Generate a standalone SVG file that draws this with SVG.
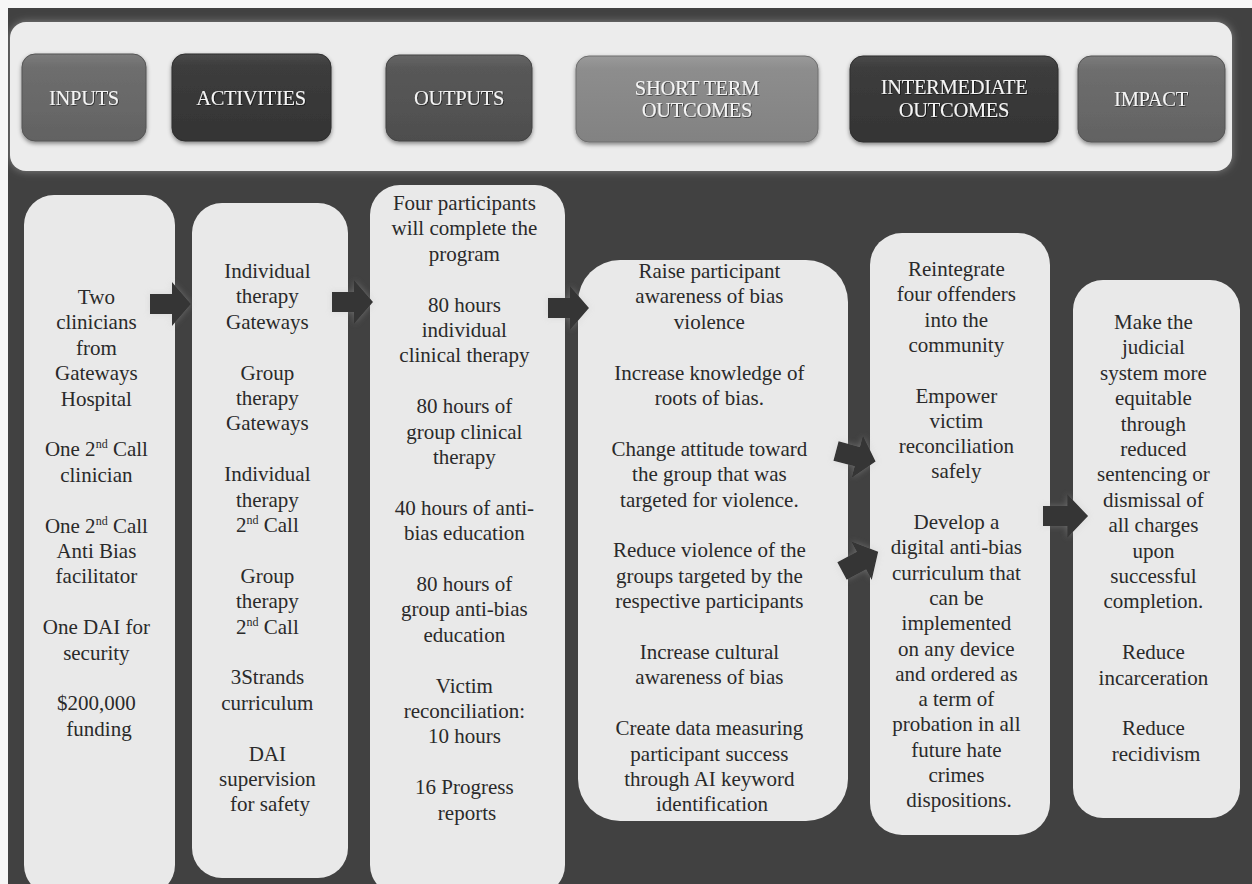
<svg xmlns="http://www.w3.org/2000/svg" xmlns:xlink="http://www.w3.org/1999/xlink" width="1252" height="884" viewBox="0 0 1252 884">
<style>
.bg{fill:#414141}
.panel{fill:#ececec}
.box{fill:#e9e9e9}
.btn-t{font-family:'Liberation Serif','DejaVu Serif','Times New Roman',serif;font-size:20.5px;letter-spacing:-0.3px;fill:#f4f4f4;text-anchor:middle}
.t{font-family:'Liberation Serif','DejaVu Serif','Times New Roman',serif;font-size:21px;fill:#2a2a2a;text-anchor:middle}
.arrow{fill:#363636}
</style>
<defs>
<linearGradient id="gMid" x1="0" y1="0" x2="0" y2="1"><stop offset="0" stop-color="#7c7c7c"/><stop offset="0.15" stop-color="#6e6e6e"/><stop offset="1" stop-color="#626262"/></linearGradient>
<linearGradient id="gDark" x1="0" y1="0" x2="0" y2="1"><stop offset="0" stop-color="#4a4a4a"/><stop offset="0.15" stop-color="#3c3c3c"/><stop offset="1" stop-color="#343434"/></linearGradient>
<linearGradient id="gMid2" x1="0" y1="0" x2="0" y2="1"><stop offset="0" stop-color="#666"/><stop offset="0.15" stop-color="#585858"/><stop offset="1" stop-color="#4e4e4e"/></linearGradient>
<linearGradient id="gLight" x1="0" y1="0" x2="0" y2="1"><stop offset="0" stop-color="#9a9a9a"/><stop offset="0.15" stop-color="#8d8d8d"/><stop offset="1" stop-color="#828282"/></linearGradient>
<filter id="sh" x="-10%" y="-10%" width="120%" height="130%"><feDropShadow dx="0" dy="2" stdDeviation="2" flood-color="#000" flood-opacity="0.45"/></filter>
<filter id="tsh"><feDropShadow dx="0.8" dy="0.8" stdDeviation="0.6" flood-color="#000" flood-opacity="0.6"/></filter>
<filter id="glow" x="-10%" y="-20%" width="120%" height="140%"><feDropShadow dx="0" dy="0" stdDeviation="4" flood-color="#fff" flood-opacity="0.35"/></filter>
<filter id="aglow" x="-30%" y="-30%" width="160%" height="160%"><feDropShadow dx="0" dy="0" stdDeviation="3" flood-color="#bbb" flood-opacity="0.35"/></filter>
<path id="arr" d="M0,-10 L22,-10 L22,-22 L41,0 L22,22 L22,10 L0,10 Z"/>
</defs>

<rect x="0" y="0" width="1252" height="884" fill="#f6f6f6"/>
<rect class="bg" x="8" y="8" width="1244" height="876"/>

<g id="header">
<rect class="panel" x="10" y="22" width="1222" height="149" rx="16" filter="url(#glow)"/>
</g>

<g id="btn-inputs" filter="url(#sh)">
<rect x="22" y="54" width="124" height="87" rx="13" fill="url(#gMid)" stroke="#555" stroke-width="1"/>
<text class="btn-t" x="84" y="105" filter="url(#tsh)">INPUTS</text>
</g>
<g id="btn-activities" filter="url(#sh)">
<rect x="172" y="54" width="159" height="87" rx="13" fill="url(#gDark)" stroke="#2e2e2e" stroke-width="1"/>
<text class="btn-t" x="251" y="105" filter="url(#tsh)">ACTIVITIES</text>
</g>
<g id="btn-outputs" filter="url(#sh)">
<rect x="386" y="55" width="146" height="86" rx="13" fill="url(#gMid2)" stroke="#444" stroke-width="1"/>
<text class="btn-t" x="459" y="105" filter="url(#tsh)">OUTPUTS</text>
</g>
<g id="btn-short" filter="url(#sh)">
<rect x="576" y="56" width="242" height="86" rx="13" fill="url(#gLight)" stroke="#6e6e6e" stroke-width="1"/>
<text class="btn-t" x="697" y="95" filter="url(#tsh)">SHORT TERM</text>
<text class="btn-t" x="697" y="117" filter="url(#tsh)">OUTCOMES</text>
</g>
<g id="btn-intermediate" filter="url(#sh)">
<rect x="850" y="56" width="208" height="86" rx="13" fill="url(#gDark)" stroke="#2e2e2e" stroke-width="1"/>
<text class="btn-t" x="954" y="94" filter="url(#tsh)">INTERMEDIATE</text>
<text class="btn-t" x="954" y="117" filter="url(#tsh)">OUTCOMES</text>
</g>
<g id="btn-impact" filter="url(#sh)">
<rect x="1078" y="56" width="147" height="86" rx="13" fill="url(#gMid)" stroke="#555" stroke-width="1"/>
<text class="btn-t" x="1151" y="106" filter="url(#tsh)">IMPACT</text>
</g>

<g id="node-inputs">
<rect class="box" x="24" y="195" width="151" height="700" rx="30"/>
<text class="t">
<tspan x="99" y="304">Two</tspan>
<tspan x="99" y="329.4">clinicians</tspan>
<tspan x="99" y="354.8">from</tspan>
<tspan x="99" y="380.2">Gateways</tspan>
<tspan x="99" y="405.6">Hospital</tspan>
<tspan x="99" y="456.4">One 2<tspan font-size="12" dy="-8">nd</tspan><tspan dy="8"> Call</tspan></tspan>
<tspan x="99" y="481.8">clinician</tspan>
<tspan x="99" y="532.6">One 2<tspan font-size="12" dy="-8">nd</tspan><tspan dy="8"> Call</tspan></tspan>
<tspan x="99" y="558">Anti Bias</tspan>
<tspan x="99" y="583.4">facilitator</tspan>
<tspan x="99" y="634.2">One DAI for</tspan>
<tspan x="99" y="659.6">security</tspan>
<tspan x="99" y="710.4">$200,000</tspan>
<tspan x="99" y="735.8">funding</tspan>
</text>
</g>

<g id="node-activities">
<rect class="box" x="192" y="203" width="156" height="675" rx="30"/>
<text class="t">
<tspan x="270" y="278">Individual</tspan>
<tspan x="270" y="303.4">therapy</tspan>
<tspan x="270" y="328.8">Gateways</tspan>
<tspan x="270" y="379.6">Group</tspan>
<tspan x="270" y="405">therapy</tspan>
<tspan x="270" y="430.4">Gateways</tspan>
<tspan x="270" y="481.2">Individual</tspan>
<tspan x="270" y="506.6">therapy</tspan>
<tspan x="270" y="532">2<tspan font-size="12" dy="-8">nd</tspan><tspan dy="8"> Call</tspan></tspan>
<tspan x="270" y="582.8">Group</tspan>
<tspan x="270" y="608.2">therapy</tspan>
<tspan x="270" y="633.6">2<tspan font-size="12" dy="-8">nd</tspan><tspan dy="8"> Call</tspan></tspan>
<tspan x="270" y="684.4">3Strands</tspan>
<tspan x="270" y="709.8">curriculum</tspan>
<tspan x="270" y="760.6">DAI</tspan>
<tspan x="270" y="786">supervision</tspan>
<tspan x="270" y="811.4">for safety</tspan>
</text>
</g>

<g id="node-outputs">
<rect class="box" x="370" y="185" width="195" height="710" rx="30"/>
<text class="t">
<tspan x="467" y="210">Four participants</tspan>
<tspan x="467" y="235.4">will complete the</tspan>
<tspan x="467" y="260.8">program</tspan>
<tspan x="467" y="311.6">80 hours</tspan>
<tspan x="467" y="337">individual</tspan>
<tspan x="467" y="362.4">clinical therapy</tspan>
<tspan x="467" y="413.2">80 hours of</tspan>
<tspan x="467" y="438.6">group clinical</tspan>
<tspan x="467" y="464">therapy</tspan>
<tspan x="467" y="514.8">40 hours of anti-</tspan>
<tspan x="467" y="540.2">bias education</tspan>
<tspan x="467" y="591">80 hours of</tspan>
<tspan x="467" y="616.4">group anti-bias</tspan>
<tspan x="467" y="641.8">education</tspan>
<tspan x="467" y="692.6">Victim</tspan>
<tspan x="467" y="718">reconciliation:</tspan>
<tspan x="467" y="743.4">10 hours</tspan>
<tspan x="467" y="794.2">16 Progress</tspan>
<tspan x="467" y="819.6">reports</tspan>
</text>
</g>

<g id="node-short-term">
<rect class="box" x="578" y="260" width="270" height="561" rx="42"/>
<text class="t">
<tspan x="712" y="278">Raise participant</tspan>
<tspan x="712" y="303.4">awareness of bias</tspan>
<tspan x="712" y="328.8">violence</tspan>
<tspan x="712" y="379.6">Increase knowledge of</tspan>
<tspan x="712" y="405">roots of bias.</tspan>
<tspan x="712" y="455.8">Change attitude toward</tspan>
<tspan x="712" y="481.2">the group that was</tspan>
<tspan x="712" y="506.6">targeted for violence.</tspan>
<tspan x="712" y="557.4">Reduce violence of the</tspan>
<tspan x="712" y="582.8">groups targeted by the</tspan>
<tspan x="712" y="608.2">respective participants</tspan>
<tspan x="712" y="659">Increase cultural</tspan>
<tspan x="712" y="684.4">awareness of bias</tspan>
<tspan x="712" y="735.2">Create data measuring</tspan>
<tspan x="712" y="760.6">participant success</tspan>
<tspan x="712" y="786">through AI keyword</tspan>
<tspan x="712" y="811.4">identification</tspan>
</text>
</g>

<g id="node-intermediate">
<rect class="box" x="870" y="233" width="180" height="602" rx="32"/>
<text class="t">
<tspan x="959" y="276">Reintegrate</tspan>
<tspan x="959" y="301.3">four offenders</tspan>
<tspan x="959" y="326.6">into the</tspan>
<tspan x="959" y="351.9">community</tspan>
<tspan x="959" y="402.5">Empower</tspan>
<tspan x="959" y="427.8">victim</tspan>
<tspan x="959" y="453.1">reconciliation</tspan>
<tspan x="959" y="478.4">safely</tspan>
<tspan x="959" y="529">Develop a</tspan>
<tspan x="959" y="554.3">digital anti-bias</tspan>
<tspan x="959" y="579.6">curriculum that</tspan>
<tspan x="959" y="604.9">can be</tspan>
<tspan x="959" y="630.2">implemented</tspan>
<tspan x="959" y="655.5">on any device</tspan>
<tspan x="959" y="680.8">and ordered as</tspan>
<tspan x="959" y="706.1">a term of</tspan>
<tspan x="959" y="731.4">probation in all</tspan>
<tspan x="959" y="756.7">future hate</tspan>
<tspan x="959" y="782">crimes</tspan>
<tspan x="959" y="807.3">dispositions.</tspan>
</text>
</g>

<g id="node-impact">
<rect class="box" x="1073" y="280" width="167" height="538" rx="30"/>
<text class="t">
<tspan x="1156" y="329">Make the</tspan>
<tspan x="1156" y="354.4">judicial</tspan>
<tspan x="1156" y="379.8">system more</tspan>
<tspan x="1156" y="405.2">equitable</tspan>
<tspan x="1156" y="430.6">through</tspan>
<tspan x="1156" y="456">reduced</tspan>
<tspan x="1156" y="481.4">sentencing or</tspan>
<tspan x="1156" y="506.8">dismissal of</tspan>
<tspan x="1156" y="532.2">all charges</tspan>
<tspan x="1156" y="557.6">upon</tspan>
<tspan x="1156" y="583">successful</tspan>
<tspan x="1156" y="608.4">completion.</tspan>
<tspan x="1156" y="659.2">Reduce</tspan>
<tspan x="1156" y="684.6">incarceration</tspan>
<tspan x="1156" y="735.4">Reduce</tspan>
<tspan x="1156" y="760.8">recidivism</tspan>
</text>
</g>

<g id="connectors" class="arrow" filter="url(#aglow)">
<use xlink:href="#arr" transform="translate(150,304)"/>
<use xlink:href="#arr" transform="translate(332,302)"/>
<use xlink:href="#arr" transform="translate(548,308)"/>
<use xlink:href="#arr" transform="translate(836,451) rotate(15)"/>
<use xlink:href="#arr" transform="translate(842,571) rotate(-28)"/>
<use xlink:href="#arr" transform="translate(1043,516) scale(1.1,1)"/>
</g>
</svg>
